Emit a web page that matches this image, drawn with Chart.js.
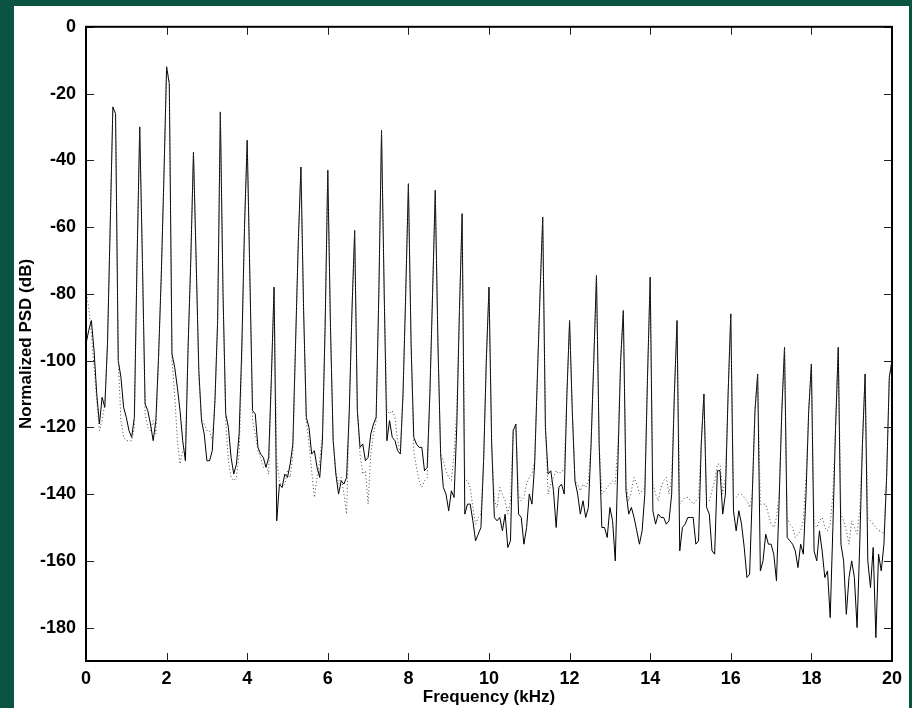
<!DOCTYPE html>
<html>
<head>
<meta charset="utf-8">
<script src="https://cdn.jsdelivr.net/npm/chart.js@4.4.1/dist/chart.umd.min.js"></script>
<style>
  html, body { margin: 0; padding: 0; }
  body { width: 912px; height: 708px; background: #0c5442; position: relative; overflow: hidden; }
  #panel { position: absolute; left: 14px; top: 6px; width: 895px; height: 702px; background: #fff; }
</style>
</head>
<body>
<div id="panel"><canvas id="psdChart" width="895" height="702"></canvas></div>
<script>
// spectrum bins, 0 .. 20 kHz, 300 steps
const binStep = 20 / 300;

// solid trace (dB), ten bins per harmonic period of 0.667 kHz
const solidPsd = [
  -95, -91, -88, -97, -110, -119, -111, -114, -95, -60,
  -24, -26, -100, -105, -114, -117, -121, -123, -117, -70,
  -30, -70, -113, -115, -119, -124, -118, -99, -75, -45,
  -12, -17, -98, -102, -108, -115, -124, -130, -96, -70,
  -37.5, -70, -103, -118, -122, -130, -130, -127, -112, -88,
  -25.5, -80, -116, -120, -129, -134, -131, -122, -96, -60,
  -34, -75, -115, -116, -126, -128, -129, -132, -129, -105,
  -78, -148, -137, -138, -134, -135, -131, -125, -95, -65,
  -42, -85, -117, -120, -128, -127, -132, -135, -124, -90,
  -43, -90, -124, -134, -140, -136, -137, -135, -115, -85,
  -61, -115, -126, -125, -130, -129, -122, -119, -117, -80,
  -31, -80, -124, -118, -123, -124, -127, -128, -110, -80,
  -47, -95, -123, -125, -126, -126, -133, -132, -110, -80,
  -49, -95, -128, -138, -140, -145, -139, -141, -120, -85,
  -56, -146, -143, -143, -148, -154, -152, -150, -130, -100,
  -78, -125, -147, -148, -147, -151, -146, -156, -154, -121,
  -119, -146, -147, -155, -150, -140, -143, -131, -105, -80,
  -57, -120, -134, -133, -139, -150, -138, -137, -140, -110,
  -88, -115, -136, -140, -146, -142, -147, -144, -125, -100,
  -74.5, -125, -150, -150, -153, -144, -148, -160, -130, -100,
  -85, -139, -146, -144, -147, -151, -155, -151, -140, -105,
  -75, -145, -149, -146, -147, -147, -149, -148, -140, -110,
  -88, -157, -150, -149, -147, -147, -147, -155, -154, -125,
  -110, -144, -146, -157, -158, -133, -133, -146, -140, -110,
  -86, -145, -151, -145, -149, -156, -165, -164, -140, -115,
  -104, -163, -160, -152, -155, -155, -158, -166, -142, -115,
  -96, -153, -154, -155, -157, -162, -155, -158, -140, -115,
  -101, -157, -160, -151, -157, -165, -163, -177, -150, -120,
  -96, -155, -160, -176, -165, -160, -165, -180, -155, -125,
  -104, -160, -168, -156, -183, -158, -163, -155, -135, -105,
  -100
];

// dotted trace (dB)
const dottedPsd = [
  -79, -84, -92, -102, -112, -121, -118, -113, -95, -60,
  -24, -26, -100, -118, -123, -124, -124, -124, -120, -70,
  -30, -70, -116, -120, -121, -118, -122, -100, -75, -45,
  -12, -17, -100, -110, -124, -131, -127, -126, -96, -70,
  -37.5, -70, -105, -117, -119, -121, -121, -124, -112, -88,
  -25.5, -80, -118, -130, -135, -136, -135, -128, -100, -60,
  -34, -75, -118, -122, -127, -129, -132, -131, -134, -106,
  -78, -130, -136, -138, -137, -133, -135, -128, -95, -65,
  -42, -85, -118, -125, -133, -141, -135, -130, -122, -90,
  -43, -90, -124, -133, -137, -135, -140, -146, -115, -85,
  -61, -115, -128, -134, -133, -143, -128, -122, -118, -80,
  -31, -80, -115, -116, -115, -117, -124, -128, -110, -80,
  -47, -95, -127, -132, -136, -138, -136, -135, -110, -80,
  -49, -95, -128, -130, -133, -135, -136, -128, -115, -85,
  -56, -136, -136, -138, -144, -149, -147, -146, -130, -100,
  -78, -125, -142, -144, -138, -140, -142, -146, -142, -121,
  -119, -140, -142, -141, -137, -135, -134, -130, -105, -80,
  -57, -120, -140, -137, -135, -133, -134, -133, -133, -110,
  -88, -115, -136, -137, -139, -137, -138, -136, -125, -100,
  -74.5, -125, -140, -139, -138, -137, -136, -137, -125, -100,
  -85, -137, -142, -139, -135, -137, -140, -139, -138, -105,
  -75, -137, -140, -142, -138, -136, -135, -140, -135, -110,
  -88, -143, -142, -141, -141, -142, -143, -142, -141, -125,
  -110, -142, -142, -139, -136, -131, -131, -140, -135, -110,
  -86, -141, -141, -140, -140, -141, -142, -144, -140, -115,
  -104, -143, -143, -143, -146, -149, -150, -147, -140, -115,
  -96, -147, -149, -150, -153, -152, -151, -148, -135, -115,
  -101, -149, -150, -148, -147, -150, -151, -149, -140, -120,
  -96, -146, -148, -151, -155, -148, -150, -152, -145, -125,
  -104, -147, -148, -149, -150, -151, -151, -152, -135, -105,
  -100
];

const xTicks = [0, 2, 4, 6, 8, 10, 12, 14, 16, 18, 20];
const yTicks = [0, -20, -40, -60, -80, -100, -120, -140, -160, -180];

const toPoints = arr => arr.map((v, i) => ({ x: i * binStep, y: v }));

// ticks pointing into the plot plus a closed frame
const innerTicks = {
  id: 'innerTicks',
  afterDraw(chart) {
    const { ctx, chartArea: a, scales: { x, y } } = chart;
    ctx.save();
    ctx.strokeStyle = '#222';
    ctx.lineWidth = 1;
    ctx.beginPath();
    xTicks.forEach(v => {
      const px = Math.round(x.getPixelForValue(v)) + 0.5;
      ctx.moveTo(px, a.top); ctx.lineTo(px, a.top + 8);
      ctx.moveTo(px, a.bottom); ctx.lineTo(px, a.bottom - 8);
    });
    yTicks.forEach(v => {
      const py = Math.round(y.getPixelForValue(v)) + 0.5;
      ctx.moveTo(a.left, py); ctx.lineTo(a.left + 8, py);
      ctx.moveTo(a.right, py); ctx.lineTo(a.right - 8, py);
    });
    ctx.stroke();
    ctx.strokeStyle = '#000';
    ctx.lineWidth = 2;
    ctx.strokeRect(a.left, a.top, a.right - a.left, a.bottom - a.top);
    ctx.restore();
  }
};

const tickFont = { family: '"Liberation Sans", Arial, sans-serif', size: 18, weight: 'bold' };
const titleFont = { family: '"Liberation Sans", Arial, sans-serif', size: 17, weight: 'bold' };

new Chart(document.getElementById('psdChart'), {
  type: 'line',
  data: {
    datasets: [
      {
        label: 'dotted',
        data: toPoints(dottedPsd),
        borderColor: '#444',
        borderWidth: 1,
        borderDash: [1, 2.5],
        pointRadius: 0,
        tension: 0,
        fill: false
      },
      {
        label: 'solid',
        data: toPoints(solidPsd),
        borderColor: '#000',
        borderWidth: 1,
        pointRadius: 0,
        tension: 0,
        fill: false
      }
    ]
  },
  options: {
    responsive: false,
    animation: false,
    layout: { padding: { left: 0, top: 18, right: 15, bottom: 0 } },
    plugins: {
      legend: { display: false },
      tooltip: { enabled: false }
    },
    scales: {
      x: {
        type: 'linear',
        min: 0,
        max: 20,
        afterBuildTicks: s => { s.ticks = xTicks.map(v => ({ value: v })); },
        afterFit: s => { s.height = 47; },
        grid: { display: false, drawTicks: false },
        border: { display: false },
        ticks: { color: '#000', font: tickFont, padding: 7, maxRotation: 0, autoSkip: false },
        title: { display: true, text: 'Frequency (kHz)', color: '#000', font: titleFont, padding: { top: 0, bottom: 0 } }
      },
      y: {
        type: 'linear',
        min: -190,
        max: 0,
        afterBuildTicks: s => { s.ticks = yTicks.map(v => ({ value: v })); },
        afterFit: s => { s.width = 72; },
        grid: { display: false, drawTicks: false },
        border: { display: false },
        ticks: { color: '#000', font: tickFont, padding: 10, autoSkip: false },
        title: { display: true, text: 'Normalized PSD (dB)', color: '#000', font: titleFont, padding: { top: 2, bottom: 0 } }
      }
    }
  },
  plugins: [innerTicks]
});
</script>
</body>
</html>
